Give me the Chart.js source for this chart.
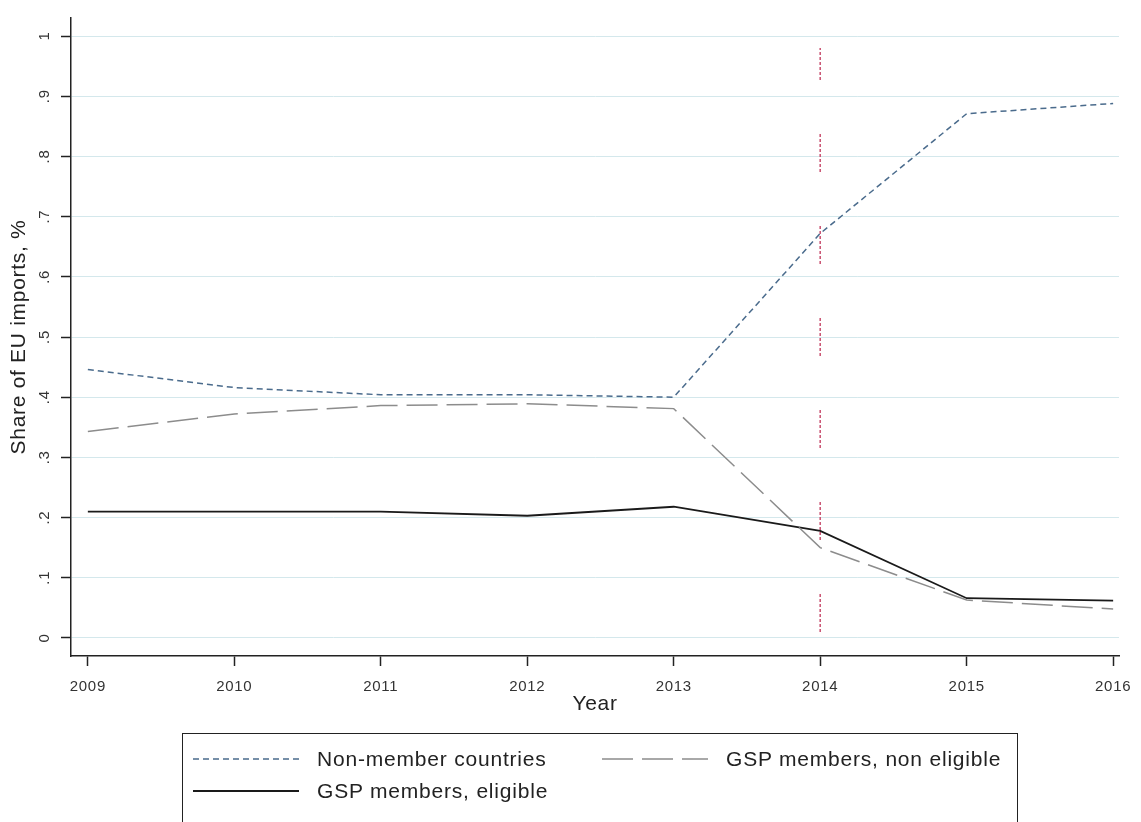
<!DOCTYPE html>
<html>
<head>
<meta charset="utf-8">
<script src="https://cdn.jsdelivr.net/npm/chart.js@4.4.1/dist/chart.umd.min.js"></script>
<style>
  html, body { margin: 0; padding: 0; background: #fff; overflow: hidden; }
  #wrap { position: relative; width: 1141px; height: 822px; }
  #legend {
    position: absolute; left: 182px; top: 733px; width: 836px; height: 110px;
    border: 1.5px solid #222; box-sizing: border-box;
    font-family: "Liberation Sans", Arial, sans-serif; font-size: 21px; letter-spacing: 0.8px; color: #222;
  }
  .item { position: absolute; display: flex; align-items: center; height: 30px; }
  .item svg { margin-right: 18px; }
</style>
</head>
<body>
<div id="wrap">
  <canvas id="chart"></canvas>
  <div id="legend"></div>
</div>
<script>
// Data
const years = [2009, 2010, 2011, 2012, 2013, 2014, 2015, 2016];
const nonMember = [0.446, 0.416, 0.404, 0.404, 0.400, 0.672, 0.871, 0.888];
const gspNonEligible = [0.343, 0.372, 0.386, 0.389, 0.381, 0.150, 0.063, 0.048];
const gspEligible = [0.210, 0.210, 0.210, 0.203, 0.218, 0.178, 0.066, 0.062];
const yTicks = [0, 0.1, 0.2, 0.3, 0.4, 0.5, 0.6, 0.7, 0.8, 0.9, 1];
const markerYear = 2014;
const markerRange = [0.01, 0.98];

const FONT = '"Liberation Sans", Arial, sans-serif';

function pts(values) {
    return years.map((y, i) => ({ x: y, y: values[i] }));
}

const series = [
    { label: 'Non-member countries', data: nonMember, color: '#4a6b8c', dash: [6, 4], width: 1.5, sample: 106 },
    { label: 'GSP members, non eligible', data: gspNonEligible, color: '#8c8c8c', dash: [31, 9], width: 1.5, sample: 106 },
    { label: 'GSP members, eligible', data: gspEligible, color: '#1a1a1a', dash: [], width: 1.8, sample: 106 }
];

const datasets = series.map(s => ({
    label: s.label,
    data: pts(s.data),
    borderColor: s.color,
    borderDash: s.dash,
    borderWidth: s.width,
    pointRadius: 0,
    tension: 0,
    fill: false
}));

// dotted vertical marker at 2014
datasets.push({
    label: 'marker',
    data: markerRange.map(v => ({ x: markerYear, y: v })),
    borderColor: '#c9506f',
    borderWidth: 1.5,
    borderDash: [3, 2, 3, 2, 3, 2, 3, 2, 3, 2, 3, 2, 3, 2, 3, 54],
    pointRadius: 0,
    order: 10
});

// the reference text is a bit wider than Liberation Sans
const spacing = {
    id: 'spacing',
    beforeUpdate(chart) { chart.ctx.letterSpacing = '0.7px'; },
    beforeDraw(chart) { chart.ctx.letterSpacing = '0.7px'; }
};

new Chart(document.getElementById('chart'), {
    type: 'line',
    data: { datasets },
    plugins: [spacing],
    options: {
        responsive: true,
        maintainAspectRatio: false,
        animation: false,
        layout: { padding: { top: 14, right: 22, bottom: 105, left: 0 } },
        plugins: { legend: { display: false }, tooltip: { enabled: false } },
        scales: {
            x: {
                type: 'linear',
                min: 2008.885,
                max: 2016.04,
                afterBuildTicks: scale => { scale.ticks = years.map(v => ({ value: v })); },
                afterFit: scale => {
                    scale.height = 61;
                    scale.paddingLeft = 0;
                    scale.paddingRight = 0;
                },
                grid: { drawOnChartArea: false, drawTicks: true, tickLength: 10, tickColor: '#222', tickWidth: 1.5 },
                border: { color: '#222', width: 1.5 },
                ticks: {
                    color: '#333', padding: 12, maxRotation: 0,
                    font: { family: FONT, size: 15 },
                    callback: v => String(v)
                },
                title: { display: true, text: 'Year', color: '#222', font: { family: FONT, size: 21 }, padding: { top: 0, bottom: 0 } }
            },
            y: {
                min: -0.03,
                max: 1.03,
                afterBuildTicks: scale => { scale.ticks = yTicks.map(v => ({ value: v })); },
                afterFit: scale => { scale.width = 71; },
                grid: { color: '#d4e8ec', lineWidth: 1, tickLength: 10, tickColor: '#222', tickWidth: 1.5 },
                border: { color: '#222', width: 1.5 },
                ticks: {
                    color: '#333', padding: 9, minRotation: 90, maxRotation: 90, crossAlign: 'center',
                    font: { family: FONT, size: 15 },
                    callback: v => {
                        const r = Math.round(v * 10);
                        return r === 0 ? '0' : r === 10 ? '1' : '.' + r;
                    }
                },
                title: { display: true, text: 'Share of EU imports, %', color: '#222', font: { family: FONT, size: 21 }, padding: { top: 7, bottom: 0 } }
            }
        }
    }
});

// Legend built as HTML, two columns like the reference
const legend = document.getElementById('legend');
const legendPos = [
    { left: 10, top: 10 },
    { left: 419, top: 10 },
    { left: 10, top: 42 }
];
series.forEach((s, i) => {
    const p = legendPos[i];
    const item = document.createElement('div');
    item.className = 'item';
    item.style.left = p.left + 'px';
    item.style.top = p.top + 'px';
    item.innerHTML =
        `<svg width="${s.sample}" height="10"><line x1="0" y1="5" x2="${s.sample}" y2="5" stroke="${s.color}" stroke-width="${s.width}" stroke-dasharray="${s.dash.join(',') || 'none'}"/></svg>` +
        `<span>${s.label}</span>`;
    legend.appendChild(item);
});
</script>
</body>
</html>
